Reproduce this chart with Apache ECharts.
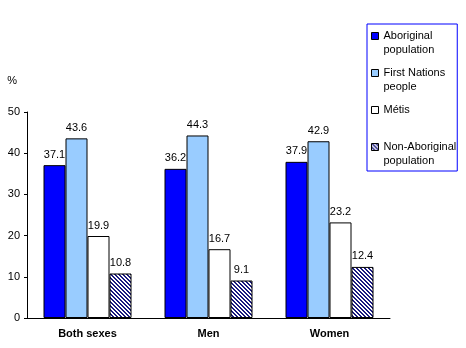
<!DOCTYPE html>
<html>
<head>
<meta charset="utf-8">
<script src="https://cdn.jsdelivr.net/npm/echarts@6/dist/echarts.min.js"></script>
<style>
  html, body { margin: 0; padding: 0; background: #fff; }
  #chart { width: 466px; height: 348px; }
</style>
</head>
<body>
<div id="chart"></div>
<script>
// data
var categories = ['Both sexes', 'Men', 'Women'];
var seriesNames = ['Aboriginal\npopulation', 'First Nations\npeople', 'Métis', 'Non-Aboriginal\npopulation'];
var aboriginal = [37.1, 36.2, 37.9];
var firstNations = [43.6, 44.3, 42.9];
var metis = [19.9, 16.7, 23.2];
var nonAboriginal = [10.8, 9.1, 12.4];
var yTicks = [0, 10, 20, 30, 40, 50];

// hatch pattern for the non-aboriginal bars
var hatch = document.createElement('canvas');
hatch.width = 4;
hatch.height = 4;
var hctx = hatch.getContext('2d');
hctx.fillStyle = '#fff';
hctx.fillRect(0, 0, 4, 4);
hctx.fillStyle = '#1a1a80';
for (var y = 0; y < 4; y++) {
  for (var x = 0; x < 4; x++) {
    var d = ((x - y) % 4 + 4) % 4;
    if (d === 0 || d === 1) hctx.fillRect(x, y, 1, 1);
  }
}

var myChart = echarts.init(document.getElementById('chart'), null, { renderer: 'canvas' });

var font = 'Arial, "Liberation Sans", sans-serif';
var labelStyle = {
  show: true,
  position: 'top',
  distance: 5,
  color: '#000',
  fontFamily: font,
  fontSize: 11,
  formatter: function (p) { return p.value.toFixed(1); }
};

function barSeries(name, data, color) {
  return {
    name: name,
    type: 'bar',
    data: data,
    barWidth: 22,
    barGap: '0%',
    itemStyle: { color: color, borderColor: '#000', borderWidth: 1 },
    label: labelStyle,
    emphasis: { disabled: true },
    animation: false
  };
}

// square sits at the top of a 7x21 icon box so it lines up with the first text line
var legendIcon = 'path://M0,0L7,0L7,7L0,7Z M0,21L0,21';

var option = {
  animation: false,
  textStyle: { fontFamily: font },
  grid: { left: 27, right: 76, top: 112, bottom: 30 },
  legend: {
    orient: 'vertical',
    left: 367,
    top: 24,
    itemWidth: 7,
    itemHeight: 21,
    itemGap: 9,
    padding: [5, 1, 3, 4],
    borderColor: '#0000ff',
    borderWidth: 1,
    selectedMode: false,
    icon: legendIcon,
    formatter: function (name) {
      return name.indexOf('\n') < 0 ? name + '\n ' : name;
    },
    textStyle: {
      color: '#000',
      fontFamily: font,
      fontSize: 11,
      lineHeight: 14
    },
    itemStyle: { borderColor: '#000', borderWidth: 1 },
    data: seriesNames
  },
  xAxis: {
    type: 'category',
    data: categories,
    axisLine: { lineStyle: { color: '#000', width: 1 } },
    axisTick: { show: false },
    axisLabel: {
      color: '#000',
      fontFamily: font,
      fontSize: 11,
      fontWeight: 'bold',
      margin: 10
    },
    splitLine: { show: false }
  },
  yAxis: {
    type: 'value',
    min: yTicks[0],
    max: yTicks[yTicks.length - 1],
    interval: 10,
    name: '%',
    nameLocation: 'end',
    nameGap: 26,
    nameTextStyle: {
      color: '#000',
      fontFamily: font,
      fontSize: 11,
      align: 'right',
      padding: [0, 10, 0, 0]
    },
    axisLine: { show: true, lineStyle: { color: '#000', width: 1 } },
    axisTick: { show: true, inside: false, length: 3, lineStyle: { color: '#000' } },
    axisLabel: { color: '#000', fontFamily: font, fontSize: 11, margin: 7 },
    splitLine: { show: false }
  },
  series: [
    barSeries(seriesNames[0], aboriginal, '#0000ff'),
    barSeries(seriesNames[1], firstNations, '#99ccff'),
    barSeries(seriesNames[2], metis, '#ffffff'),
    barSeries(seriesNames[3], nonAboriginal, { image: hatch, repeat: 'repeat' })
  ]
};

myChart.setOption(option);
</script>
</body>
</html>
